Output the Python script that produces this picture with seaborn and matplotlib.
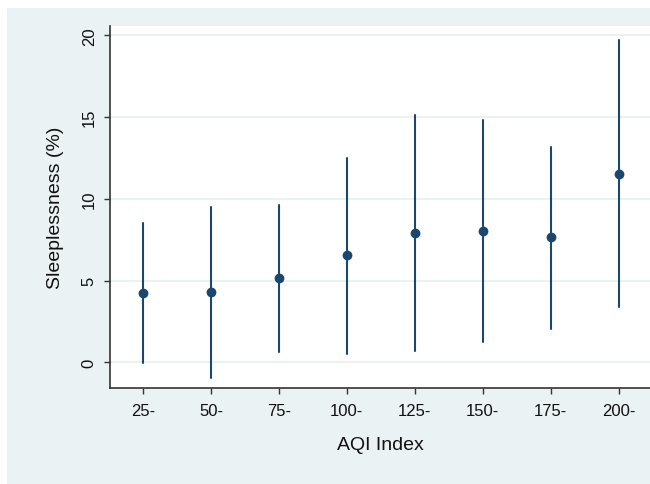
import matplotlib
matplotlib.use("Agg")
import matplotlib.pyplot as plt
from matplotlib.patches import Rectangle
import seaborn as sns
import pandas as pd

categories = ["25-", "50-", "75-", "100-", "125-", "150-", "175-", "200-"]
estimate = [4.25, 4.3, 5.17, 6.55, 7.92, 8.04, 7.65, 11.55]
ci_low = [-0.05, -0.95, 0.65, 0.55, 0.72, 1.25, 2.05, 3.4]
ci_high = [8.53, 9.5, 9.63, 12.5, 15.15, 14.83, 13.15, 19.72]
y_ticks = [0, 5, 10, 15, 20]

rows = []
for c, lo, m, hi in zip(categories, ci_low, estimate, ci_high):
    for v in (lo, m, hi):
        rows.append({"AQI": c, "value": v})
df = pd.DataFrame(rows)

sns.set_theme(style="white")
plt.rcParams["font.family"] = ["Liberation Sans", "DejaVu Sans"]

BG = "#EAF2F3"
NAVY = "#1a476f"
AXC = "#333333"

fig = plt.figure(figsize=(6.5, 4.85), dpi=100)
fig.patch.set_facecolor("white")
bgrect = Rectangle((7 / 650, 0), 643 / 650, (485 - 9) / 485,
                   transform=fig.transFigure, facecolor=BG,
                   edgecolor="none", zorder=-10)
fig.patches.append(bgrect)

ax = fig.add_axes([110 / 650, (485 - 389) / 485, 540 / 650, (389 - 27) / 485])
ax.set_zorder(5)
ax.set_facecolor("white")

sns.pointplot(data=df, x="AQI", y="value", order=categories,
              estimator="median", errorbar=("pi", 100),
              linestyle="none", marker="o", markersize=5,
              color=NAVY, err_kws={"linewidth": 1.5}, ax=ax)

ax.set_xlim(-0.485, 7.46)
ax.set_ylim(-1.56, 20.58)
ax.set_yticks(y_ticks)
ax.set_yticklabels([str(t) for t in y_ticks], rotation=90, va="center")
ax.yaxis.grid(True, color=BG, linewidth=1.5)
ax.xaxis.grid(False)
ax.set_axisbelow(True)

for s in ["top", "right"]:
    ax.spines[s].set_visible(False)
for s in ["left", "bottom"]:
    ax.spines[s].set_color(AXC)
    ax.spines[s].set_linewidth(1.2)

ax.tick_params(axis="both", which="major", length=4.5, width=1.0, color=AXC,
               labelsize=12, labelcolor="#111111")
ax.tick_params(axis="x", pad=6)
ax.tick_params(axis="y", pad=5, left=True)
ax.tick_params(axis="x", bottom=True)

ax.set_xlabel("AQI Index", fontsize=14, color="#111111", labelpad=13)
ax.set_ylabel("Sleeplessness (%)", fontsize=14, color="#111111", labelpad=13)

fig.savefig("out.png", dpi=100)
